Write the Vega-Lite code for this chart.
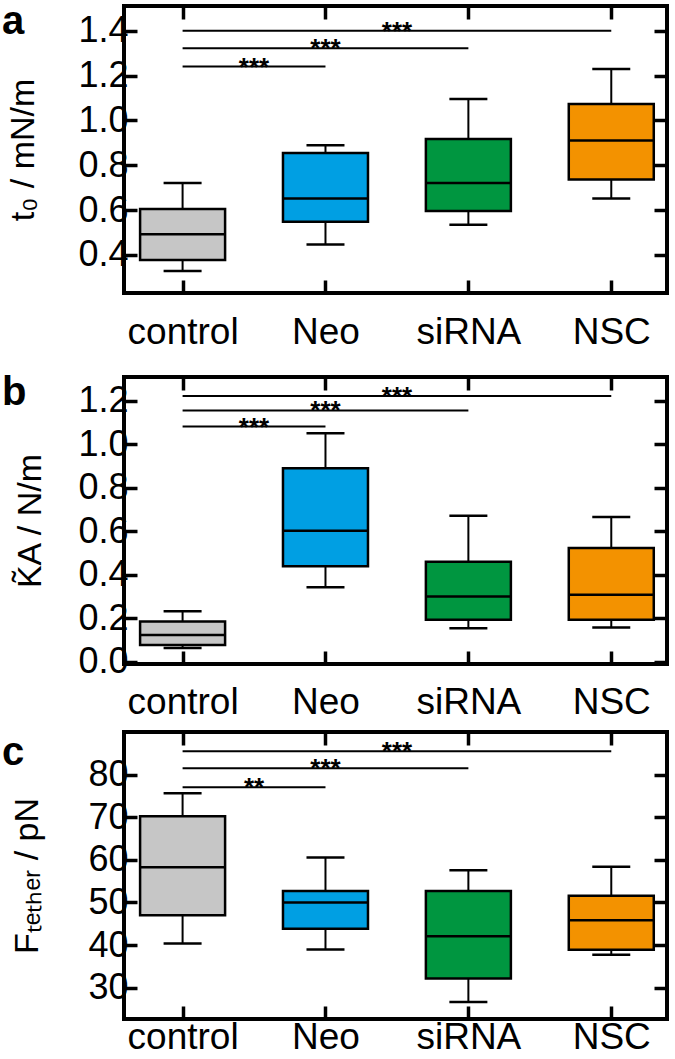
{
  "$schema": "https://vega.github.io/schema/vega-lite/v6.json",
  "background": "white",
  "padding": {"left": 0, "top": 0, "right": 6, "bottom": 0},
  "config": {
    "font": "Liberation Sans",
    "view": {"stroke": "black", "strokeWidth": 4},
    "axis": {
      "grid": false, "domain": false,
      "labelFont": "Liberation Sans", "labelFontSize": 36, "labelColor": "black",
      "tickColor": "black", "tickWidth": 3.5, "tickSize": -13,
      "titleFont": "Liberation Sans", "titleFontSize": 34, "titleFontWeight": "normal", "titleColor": "black"
    },
    "title": {"font": "Liberation Sans", "fontSize": 40, "fontWeight": "bold", "anchor": "start", "frame": "group", "offset": -17, "baseline": "alphabetic", "color": "black"}
  },
  "datasets": {
    "boxA": [
      {"group": "control", "pos": 0, "wlo": 0.328, "q1": 0.377, "med": 0.492, "q3": 0.605, "whi": 0.721},
      {"group": "Neo", "pos": 1, "wlo": 0.446, "q1": 0.548, "med": 0.652, "q3": 0.854, "whi": 0.889},
      {"group": "siRNA", "pos": 2, "wlo": 0.534, "q1": 0.596, "med": 0.721, "q3": 0.917, "whi": 1.095},
      {"group": "NSC", "pos": 3, "wlo": 0.652, "q1": 0.736, "med": 0.91, "q3": 1.073, "whi": 1.229}
    ],
    "sigA": [
      {"from": 0, "to": 3, "mid": 1.5, "y": 1.40, "label": "***"},
      {"from": 0, "to": 2, "mid": 1.0, "y": 1.322, "label": "***"},
      {"from": 0, "to": 1, "mid": 0.5, "y": 1.24, "label": "***"}
    ],
    "boxB": [
      {"group": "control", "pos": 0, "wlo": 0.064, "q1": 0.077, "med": 0.123, "q3": 0.186, "whi": 0.233},
      {"group": "Neo", "pos": 1, "wlo": 0.343, "q1": 0.44, "med": 0.603, "q3": 0.89, "whi": 1.051},
      {"group": "siRNA", "pos": 2, "wlo": 0.155, "q1": 0.193, "med": 0.301, "q3": 0.46, "whi": 0.672},
      {"group": "NSC", "pos": 3, "wlo": 0.158, "q1": 0.193, "med": 0.308, "q3": 0.523, "whi": 0.666}
    ],
    "sigB": [
      {"from": 0, "to": 3, "mid": 1.5, "y": 1.223, "label": "***"},
      {"from": 0, "to": 2, "mid": 1.0, "y": 1.156, "label": "***"},
      {"from": 0, "to": 1, "mid": 0.5, "y": 1.082, "label": "***"}
    ],
    "boxC": [
      {"group": "control", "pos": 0, "wlo": 40.35, "q1": 47.0, "med": 58.3, "q3": 70.3, "whi": 75.7},
      {"group": "Neo", "pos": 1, "wlo": 38.95, "q1": 43.8, "med": 50.0, "q3": 52.7, "whi": 60.6},
      {"group": "siRNA", "pos": 2, "wlo": 26.6, "q1": 32.1, "med": 42.06, "q3": 52.7, "whi": 57.6},
      {"group": "NSC", "pos": 3, "wlo": 37.7, "q1": 38.9, "med": 45.8, "q3": 51.6, "whi": 58.4}
    ],
    "sigC": [
      {"from": 0, "to": 3, "mid": 1.5, "y": 85.6, "label": "***"},
      {"from": 0, "to": 2, "mid": 1.0, "y": 81.55, "label": "***"},
      {"from": 0, "to": 1, "mid": 0.5, "y": 77.1, "label": "**"}
    ]
  },
  "spacing": 19,
  "vconcat": [
    {
      "width": 543, "height": 287,
      "title": {"text": "a", "dx": -122, "dy": 21},
      "resolve": {"axis": {"x": "independent", "y": "independent"}},
      "layer": [
        {"data": {"name": "boxA"}, "mark": {"type": "rule", "color": "black", "strokeWidth": 2},
         "encoding": {
           "x": {"field": "pos", "type": "quantitative", "scale": {"domain": [-0.41, 3.39], "nice": false, "zero": false, "padding": 0},
                 "axis": {"orient": "bottom", "values": [0, 1, 2, 3], "labelExpr": "['control','Neo','siRNA','NSC'][datum.value]", "title": null, "labelFontSize": 37, "labelPadding": 34, "labelFlush": false, "labelOverlap": false}},
           "y": {"field": "wlo", "type": "quantitative", "scale": {"domain": [0.23, 1.51], "nice": false, "zero": false, "padding": 0},
                 "axis": {"orient": "left", "values": [0.4, 0.6, 0.8, 1.0, 1.2, 1.4], "format": ".1f", "title": "t₀ / mN/m", "labelPadding": 9, "titlePadding": 37}},
           "y2": {"field": "whi"}
         }},
        {"data": {"name": "boxA"}, "mark": {"type": "tick", "orient": "horizontal", "color": "black", "size": 38, "thickness": 2.5, "opacity": 1},
         "encoding": {
           "x": {"field": "pos", "type": "quantitative", "axis": {"orient": "top", "values": [0, 1, 2, 3], "labels": false, "title": null}},
           "y": {"field": "whi", "type": "quantitative", "axis": {"orient": "right", "values": [0.4, 0.6, 0.8, 1.0, 1.2, 1.4], "labels": false, "title": null}}
         }},
        {"data": {"name": "boxA"}, "mark": {"type": "tick", "orient": "horizontal", "color": "black", "size": 38, "thickness": 2.5, "opacity": 1},
         "encoding": {
           "x": {"field": "pos", "type": "quantitative", "axis": null},
           "y": {"field": "wlo", "type": "quantitative", "axis": null}
         }},
        {"data": {"name": "boxA"}, "mark": {"type": "bar", "size": 85, "stroke": "black", "strokeWidth": 2.5, "opacity": 1},
         "encoding": {
           "x": {"field": "pos", "type": "quantitative", "axis": null},
           "y": {"field": "q1", "type": "quantitative", "axis": null},
           "y2": {"field": "q3"},
           "color": {"field": "group", "type": "nominal", "scale": {"domain": ["control", "Neo", "siRNA", "NSC"], "range": ["#c6c6c6", "#009fe3", "#009640", "#f39200"]}, "legend": null}
         }},
        {"data": {"name": "boxA"}, "mark": {"type": "tick", "orient": "horizontal", "color": "black", "size": 84, "thickness": 2.5, "opacity": 1},
         "encoding": {
           "x": {"field": "pos", "type": "quantitative", "axis": null},
           "y": {"field": "med", "type": "quantitative", "axis": null}
         }},
        {"data": {"name": "sigA"}, "mark": {"type": "rule", "color": "black", "strokeWidth": 2},
         "encoding": {
           "x": {"field": "from", "type": "quantitative", "axis": null},
           "x2": {"field": "to"},
           "y": {"field": "y", "type": "quantitative", "axis": null}
         }},
        {"data": {"name": "sigA"}, "mark": {"type": "text", "fontSize": 26, "fontWeight": "bold", "dy": 9, "baseline": "alphabetic", "align": "center", "color": "black"},
         "encoding": {
           "x": {"field": "mid", "type": "quantitative", "axis": null},
           "y": {"field": "y", "type": "quantitative", "axis": null},
           "text": {"field": "label"}
         }}
      ]
    },
    {
      "spacing": 6,
      "vconcat": [
        {
          "width": 543, "height": 287,
          "title": {"text": "b", "dx": -122, "dy": 21},
          "resolve": {"axis": {"x": "independent", "y": "independent"}},
          "layer": [
            {"data": {"name": "boxB"}, "mark": {"type": "rule", "color": "black", "strokeWidth": 2},
             "encoding": {
               "x": {"field": "pos", "type": "quantitative", "scale": {"domain": [-0.41, 3.39], "nice": false, "zero": false, "padding": 0},
                     "axis": {"orient": "bottom", "values": [0, 1, 2, 3], "labelExpr": "['control','Neo','siRNA','NSC'][datum.value]", "title": null, "labelFontSize": 37, "labelPadding": 33, "labelFlush": false, "labelOverlap": false}},
               "y": {"field": "wlo", "type": "quantitative", "scale": {"domain": [-0.01, 1.31], "nice": false, "zero": false, "padding": 0},
                     "axis": {"orient": "left", "values": [0.0, 0.2, 0.4, 0.6, 0.8, 1.0, 1.2], "format": ".1f", "title": "K̃A / N/m", "labelPadding": 9, "titlePadding": 30}},
               "y2": {"field": "whi"}
             }},
            {"data": {"name": "boxB"}, "mark": {"type": "tick", "orient": "horizontal", "color": "black", "size": 38, "thickness": 2.5, "opacity": 1},
             "encoding": {
               "x": {"field": "pos", "type": "quantitative", "axis": {"orient": "top", "values": [0, 1, 2, 3], "labels": false, "title": null}},
               "y": {"field": "whi", "type": "quantitative", "axis": {"orient": "right", "values": [0.0, 0.2, 0.4, 0.6, 0.8, 1.0, 1.2], "labels": false, "title": null}}
             }},
            {"data": {"name": "boxB"}, "mark": {"type": "tick", "orient": "horizontal", "color": "black", "size": 38, "thickness": 2.5, "opacity": 1},
             "encoding": {
               "x": {"field": "pos", "type": "quantitative", "axis": null},
               "y": {"field": "wlo", "type": "quantitative", "axis": null}
             }},
            {"data": {"name": "boxB"}, "mark": {"type": "bar", "size": 85, "stroke": "black", "strokeWidth": 2.5, "opacity": 1},
             "encoding": {
               "x": {"field": "pos", "type": "quantitative", "axis": null},
               "y": {"field": "q1", "type": "quantitative", "axis": null},
               "y2": {"field": "q3"},
               "color": {"field": "group", "type": "nominal", "scale": {"domain": ["control", "Neo", "siRNA", "NSC"], "range": ["#c6c6c6", "#009fe3", "#009640", "#f39200"]}, "legend": null}
             }},
            {"data": {"name": "boxB"}, "mark": {"type": "tick", "orient": "horizontal", "color": "black", "size": 84, "thickness": 2.5, "opacity": 1},
             "encoding": {
               "x": {"field": "pos", "type": "quantitative", "axis": null},
               "y": {"field": "med", "type": "quantitative", "axis": null}
             }},
            {"data": {"name": "sigB"}, "mark": {"type": "rule", "color": "black", "strokeWidth": 2},
             "encoding": {
               "x": {"field": "from", "type": "quantitative", "axis": null},
               "x2": {"field": "to"},
               "y": {"field": "y", "type": "quantitative", "axis": null}
             }},
            {"data": {"name": "sigB"}, "mark": {"type": "text", "fontSize": 26, "fontWeight": "bold", "dy": 9, "baseline": "alphabetic", "align": "center", "color": "black"},
             "encoding": {
               "x": {"field": "mid", "type": "quantitative", "axis": null},
               "y": {"field": "y", "type": "quantitative", "axis": null},
               "text": {"field": "label"}
             }}
          ]
        },
        {
          "width": 543, "height": 287,
          "title": {"text": "c", "dx": -122, "dy": 26},
          "resolve": {"axis": {"x": "independent", "y": "independent"}},
          "layer": [
            {"data": {"name": "boxC"}, "mark": {"type": "rule", "color": "black", "strokeWidth": 2},
             "encoding": {
               "x": {"field": "pos", "type": "quantitative", "scale": {"domain": [-0.41, 3.39], "nice": false, "zero": false, "padding": 0},
                     "axis": {"orient": "bottom", "values": [0, 1, 2, 3], "labelExpr": "['control','Neo','siRNA','NSC'][datum.value]", "title": null, "labelFontSize": 37, "labelPadding": 13, "labelFlush": false, "labelOverlap": false}},
               "y": {"field": "wlo", "type": "quantitative", "scale": {"domain": [22.6, 90.1], "nice": false, "zero": false, "padding": 0},
                     "axis": {"orient": "left", "values": [30, 40, 50, 60, 70, 80], "format": "d", "title": "Fₜₑₜₕₑᵣ / pN", "labelPadding": 9, "titlePadding": 43}},
               "y2": {"field": "whi"}
             }},
            {"data": {"name": "boxC"}, "mark": {"type": "tick", "orient": "horizontal", "color": "black", "size": 38, "thickness": 2.5, "opacity": 1},
             "encoding": {
               "x": {"field": "pos", "type": "quantitative", "axis": {"orient": "top", "values": [0, 1, 2, 3], "labels": false, "title": null}},
               "y": {"field": "whi", "type": "quantitative", "axis": {"orient": "right", "values": [30, 40, 50, 60, 70, 80], "labels": false, "title": null}}
             }},
            {"data": {"name": "boxC"}, "mark": {"type": "tick", "orient": "horizontal", "color": "black", "size": 38, "thickness": 2.5, "opacity": 1},
             "encoding": {
               "x": {"field": "pos", "type": "quantitative", "axis": null},
               "y": {"field": "wlo", "type": "quantitative", "axis": null}
             }},
            {"data": {"name": "boxC"}, "mark": {"type": "bar", "size": 85, "stroke": "black", "strokeWidth": 2.5, "opacity": 1},
             "encoding": {
               "x": {"field": "pos", "type": "quantitative", "axis": null},
               "y": {"field": "q1", "type": "quantitative", "axis": null},
               "y2": {"field": "q3"},
               "color": {"field": "group", "type": "nominal", "scale": {"domain": ["control", "Neo", "siRNA", "NSC"], "range": ["#c6c6c6", "#009fe3", "#009640", "#f39200"]}, "legend": null}
             }},
            {"data": {"name": "boxC"}, "mark": {"type": "tick", "orient": "horizontal", "color": "black", "size": 84, "thickness": 2.5, "opacity": 1},
             "encoding": {
               "x": {"field": "pos", "type": "quantitative", "axis": null},
               "y": {"field": "med", "type": "quantitative", "axis": null}
             }},
            {"data": {"name": "sigC"}, "mark": {"type": "rule", "color": "black", "strokeWidth": 2},
             "encoding": {
               "x": {"field": "from", "type": "quantitative", "axis": null},
               "x2": {"field": "to"},
               "y": {"field": "y", "type": "quantitative", "axis": null}
             }},
            {"data": {"name": "sigC"}, "mark": {"type": "text", "fontSize": 26, "fontWeight": "bold", "dy": 9, "baseline": "alphabetic", "align": "center", "color": "black"},
             "encoding": {
               "x": {"field": "mid", "type": "quantitative", "axis": null},
               "y": {"field": "y", "type": "quantitative", "axis": null},
               "text": {"field": "label"}
             }}
          ]
        }
      ]
    }
  ]
}
